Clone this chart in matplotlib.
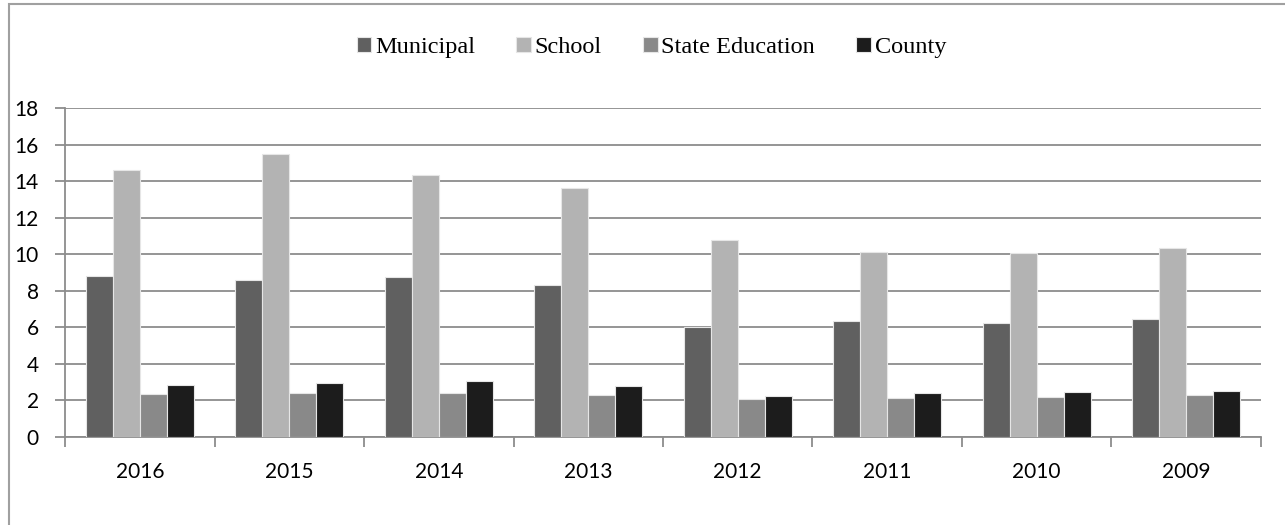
import numpy as np
import matplotlib.pyplot as plt
from matplotlib.patches import Rectangle

# data
years = ['2016', '2015', '2014', '2013', '2012', '2011', '2010', '2009']
municipal = [8.81, 8.59, 8.75, 8.30, 6.00, 6.35, 6.23, 6.45]
school = [14.60, 15.50, 14.33, 13.62, 10.76, 10.12, 10.07, 10.34]
state_education = [2.35, 2.40, 2.40, 2.30, 2.08, 2.13, 2.19, 2.28]
county = [2.83, 2.95, 3.05, 2.80, 2.25, 2.40, 2.46, 2.50]

series = [
    ('Municipal', municipal, '#606060'),
    ('School', school, '#b3b3b3'),
    ('State Education', state_education, '#898989'),
    ('County', county, '#1c1c1c'),
]

fig = plt.figure(figsize=(12.85, 5.25), dpi=100)
ax = fig.add_axes([0.0506, 0.1676, 0.9307, 0.6267])

# outer chart frame
fig.patches.append(Rectangle((0.007, -0.01), 1.0, 1.002, transform=fig.transFigure,
                             fill=False, edgecolor='#a0a0a0', linewidth=1.5))

x = np.arange(len(years))
width = 0.18
for i, (name, vals, color) in enumerate(series):
    ax.bar(x + (i - 1.5) * width, vals, width, color=color, label=name,
           edgecolor='#e6e6e6', linewidth=0.8, zorder=3)

ax.set_xlim(-0.5, len(years) - 0.5)
ax.set_ylim(0, 18)
ax.set_yticks(range(0, 19, 2))
ax.yaxis.grid(True, color='#8c8c8c', linewidth=1.3, zorder=0)
ax.set_axisbelow(True)

for side in ['top', 'right']:
    ax.spines[side].set_visible(False)
for side in ['left', 'bottom']:
    ax.spines[side].set_color('#8c8c8c')
    ax.spines[side].set_linewidth(1.3)

# category labels centred, ticks between groups
ax.set_xticks(np.arange(len(years) + 1) - 0.5)
ax.set_xticklabels([])
ax.set_xticks(x, minor=True)
ax.set_xticklabels(years, minor=True, fontsize=15, family='Lato')
ax.tick_params(axis='x', which='minor', length=0, pad=18)
ax.tick_params(axis='x', which='major', length=7, color='#8c8c8c', width=1.3)
ax.tick_params(axis='y', length=7, color='#8c8c8c', width=1.3, pad=12)
for lbl in ax.get_yticklabels():
    lbl.set_fontsize(15)
    lbl.set_family('Lato')

leg = fig.legend(loc='center', bbox_to_anchor=(0.507, 0.91), ncol=4, frameon=False,
                 prop={'family': 'Liberation Serif', 'size': 17.5},
                 handlelength=0.6, handleheight=0.6, handletextpad=0.15, columnspacing=1.7)

fig.savefig('out.png', dpi=100)
